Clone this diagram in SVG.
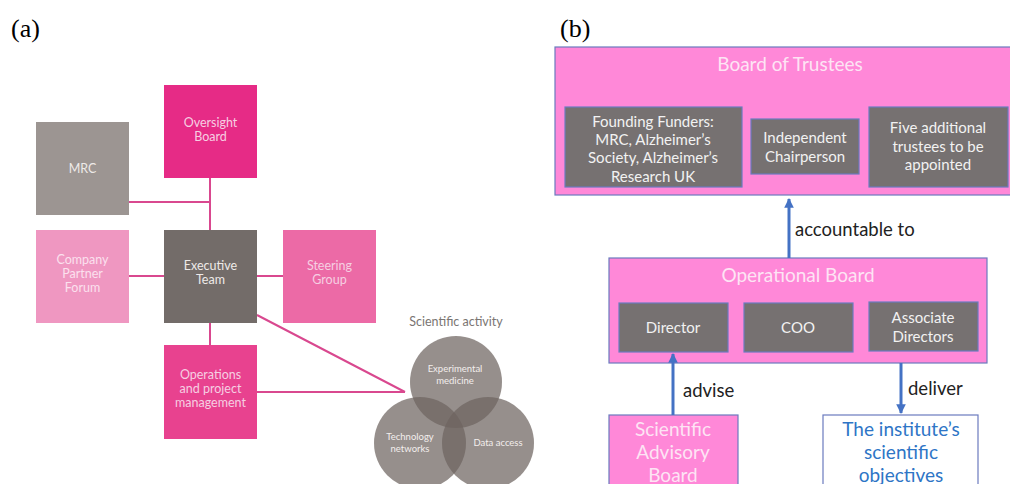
<svg xmlns="http://www.w3.org/2000/svg" width="1010" height="484" viewBox="0 0 1010 484">
<style>
.lbl{font-family:"Liberation Serif",serif;font-size:26px;fill:#000}
.ta{font-family:Lato,"Open Sans",sans-serif;font-size:12.5px;fill:#f6cfe2;text-anchor:middle}
.tw{font-family:Lato,"Open Sans",sans-serif;font-size:9.5px;fill:#f3eeec;text-anchor:middle}
.ln{stroke:#d9488f;stroke-width:2;fill:none}
.venn{fill:#6e6460;fill-opacity:0.72}
.bx{stroke:#6b7bbf;stroke-width:1.2}
.pk{fill:#ff88d8}
.gy{fill:#767171}
.tp{font-family:Lato,"Open Sans",sans-serif;font-size:19px;fill:#fde4f4;text-anchor:middle}
.tg{font-family:Lato,"Open Sans",sans-serif;font-size:15px;fill:#f2f2f2;text-anchor:middle}
.tk{font-family:Lato,"Open Sans",sans-serif;font-size:18.5px;fill:#222}
.tb{font-family:Lato,"Open Sans",sans-serif;font-size:19px;fill:#2e75c6;text-anchor:middle}
.ar{stroke:#4472c4;stroke-width:3;fill:none}
</style>
<defs>
<marker id="ah" viewBox="0 0 10 10" refX="9" refY="5" markerWidth="3.2" markerHeight="3.2" orient="auto" markerUnits="strokeWidth">
<path d="M0,0 L10,5 L0,10 z" fill="#4472c4"/>
</marker>
</defs>
<rect width="1010" height="484" fill="#fff"/>
<text class="lbl" x="11" y="37">(a)</text>
<text class="lbl" x="560" y="37">(b)</text>

<g id="connectors-a">
<path class="ln" d="M210,178 V230 M129,202 H210 M129,276 H164 M257,276 H283 M210,323 V345 M257,315 L405,392 M257,392 H405"/>
</g>
<g id="oversight"><rect x="164" y="85" width="93" height="93" fill="#e62b86"/><text class="ta" x="210.5" y="127">Oversight</text><text class="ta" x="210.5" y="141">Board</text></g>
<g id="mrc"><rect x="36" y="122" width="93" height="93" fill="#9c9592"/><text class="ta" x="82.5" y="173" style="fill:#eeeae8">MRC</text></g>
<g id="cpf"><rect x="36" y="230" width="93" height="93" fill="#ef97c1"/><text class="ta" x="82.5" y="264" style="fill:#fbe0ee">Company</text><text class="ta" x="82.5" y="278" style="fill:#fbe0ee">Partner</text><text class="ta" x="82.5" y="292" style="fill:#fbe0ee">Forum</text></g>
<g id="exec"><rect x="164" y="230" width="93" height="93" fill="#736c69"/><text class="ta" x="210.5" y="270" style="fill:#eeeae8">Executive</text><text class="ta" x="210.5" y="284" style="fill:#eeeae8">Team</text></g>
<g id="steering"><rect x="283" y="230" width="93" height="93" fill="#ec6aa6"/><text class="ta" x="329.5" y="270">Steering</text><text class="ta" x="329.5" y="284">Group</text></g>
<g id="ops"><rect x="164" y="345" width="93" height="94" fill="#e8428f"/><text class="ta" x="210.5" y="379">Operations</text><text class="ta" x="210.5" y="393">and project</text><text class="ta" x="210.5" y="407">management</text></g>
<g id="scientific-activity">
<text x="456" y="326" font-family="Lato,'Open Sans',sans-serif" font-size="12.5" fill="#7a7572" text-anchor="middle">Scientific activity</text>
<circle class="venn" cx="456" cy="382" r="46"/>
<circle class="venn" cx="420" cy="443" r="46"/>
<circle class="venn" cx="488" cy="443" r="46"/>
<text class="tw" x="455" y="372">Experimental</text><text class="tw" x="455" y="384">medicine</text>
<text class="tw" x="410" y="440">Technology</text><text class="tw" x="410" y="452">networks</text>
<text class="tw" x="498" y="446">Data access</text>
</g>

<g id="board-of-trustees"><rect class="pk bx" x="555" y="47" width="470" height="148"/><text class="tp" x="790" y="71">Board of Trustees</text></g>
<g id="founding"><rect class="gy bx" x="565" y="107" width="177" height="80"/><text class="tg" x="653" y="127">Founding Funders:</text><text class="tg" x="653" y="145">MRC, Alzheimer’s</text><text class="tg" x="653" y="163">Society, Alzheimer’s</text><text class="tg" x="653" y="182">Research UK</text></g>
<g id="chair"><rect class="gy bx" x="751" y="119" width="108" height="55"/><text class="tg" x="805" y="143">Independent</text><text class="tg" x="805" y="162">Chairperson</text></g>
<g id="five"><rect class="gy bx" x="869" y="107" width="139" height="80"/><text class="tg" x="938" y="133">Five additional</text><text class="tg" x="938" y="152">trustees to be</text><text class="tg" x="938" y="170">appointed</text></g>
<g id="operational-board"><rect class="pk bx" x="609" y="258" width="378" height="105"/><text class="tp" x="798" y="282">Operational Board</text></g>
<g id="director"><rect class="gy bx" x="619" y="303" width="109" height="49"/><text class="tg" x="673" y="333">Director</text></g>
<g id="coo"><rect class="gy bx" x="744" y="303" width="109" height="49"/><text class="tg" x="798" y="333">COO</text></g>
<g id="assoc"><rect class="gy bx" x="869" y="302" width="109" height="49"/><text class="tg" x="923" y="323">Associate</text><text class="tg" x="923" y="342">Directors</text></g>
<g id="sab"><rect class="pk bx" x="609" y="415" width="129" height="80"/><text class="tp" x="673" y="436">Scientific</text><text class="tp" x="673" y="459">Advisory</text><text class="tp" x="673" y="482">Board</text></g>
<g id="objectives"><rect x="823" y="415" width="155" height="80" fill="#fff" class="bx"/><text class="tb" x="901" y="436">The institute’s</text><text class="tb" x="901" y="459">scientific</text><text class="tb" x="901" y="482">objectives</text></g>

<g id="connectors-b">
<line class="ar" x1="789" y1="258" x2="789" y2="199" marker-end="url(#ah)"/>
<line class="ar" x1="673" y1="415" x2="673" y2="354" marker-end="url(#ah)"/>
<line class="ar" x1="901" y1="363" x2="901" y2="413" marker-end="url(#ah)"/>
<text class="tk" x="795" y="236">accountable to</text>
<text class="tk" x="683" y="397">advise</text>
<text class="tk" x="908" y="395">deliver</text>
</g>
</svg>
